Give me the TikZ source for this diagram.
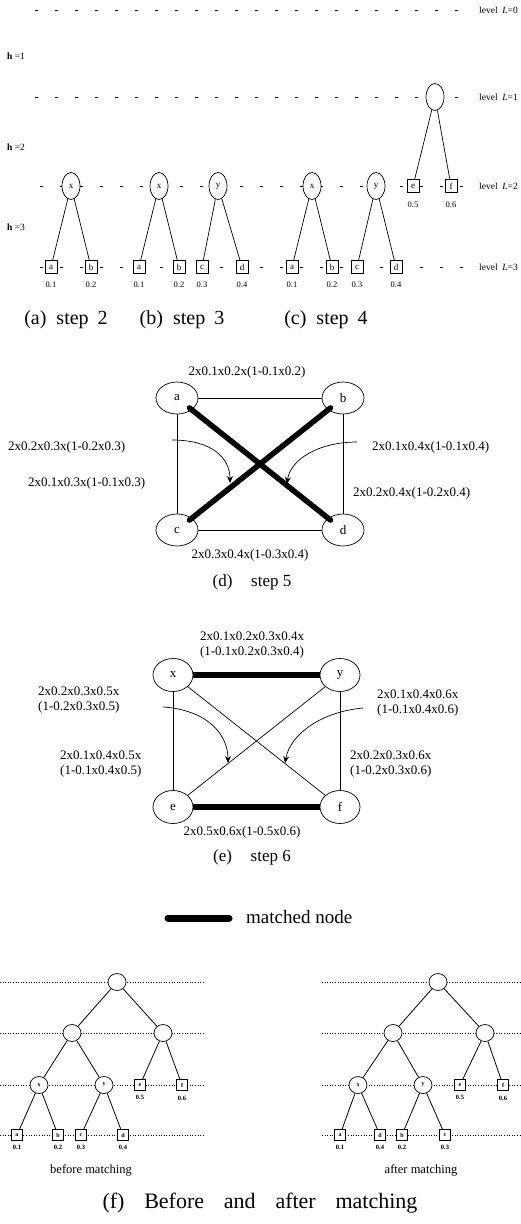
\documentclass[tikz,border=0pt]{standalone}
\usepackage{fontspec}
\setmainfont{Liberation Serif}
\usetikzlibrary{shapes.geometric,calc,arrows.meta}
\begin{document}
\begin{tikzpicture}[x=1pt,y=-1pt,
  tlbl/.style={font=\fontsize{9.5}{10}\selectfont, inner sep=0, anchor=west},
  tell/.style={ellipse, draw, fill=white, minimum width=18pt, minimum height=27pt, inner sep=0, font=\fontsize{9}{9}\selectfont, line width=0.7pt},
  tbox/.style={rectangle, draw, fill=white, minimum width=12pt, minimum height=13pt, inner sep=0, font=\fontsize{9}{9}\selectfont, line width=0.7pt},
  tnum/.style={font=\fontsize{8.5}{9}\selectfont, inner sep=0},
  lvl/.style={dash pattern=on 3pt off 17pt, line width=0.7pt},
  tedge/.style={line width=0.7pt},
  capt/.style={font=\fontsize{20}{22}\selectfont, inner sep=0},
  gnode/.style={ellipse, draw, fill=white, minimum width=42pt, minimum height=32pt, inner sep=0, font=\fontsize{13}{14}\selectfont, line width=0.7pt},
  enode/.style={gnode, minimum width=40pt, minimum height=33pt},
  glbl/.style={font=\fontsize{13}{15}\selectfont, inner sep=0},
  thin/.style={line width=0.7pt},
  thick/.style={line width=5.5pt, line cap=round},
  carrow/.style={line width=0.7pt, -{Stealth[length=7pt,width=6pt]}},
  fcirc/.style={ellipse, draw, fill=white, minimum width=18pt, minimum height=17pt, inner sep=0, font=\fontsize{6}{7}\selectfont\bfseries, line width=0.7pt},
  fbox/.style={rectangle, draw, fill=white, minimum width=11pt, minimum height=11pt, inner sep=0, font=\fontsize{6}{7}\selectfont\bfseries, line width=0.7pt},
  fnum/.style={font=\fontsize{6.5}{7}\selectfont\bfseries, inner sep=0},
  flvl/.style={dotted, line width=0.6pt},
  fedge/.style={line width=0.8pt},
  fcap/.style={font=\fontsize{12.5}{13}\selectfont, inner sep=0}
]
\useasboundingbox (0,0) rectangle (520,1224);

% ---------- top: steps 2-4 ----------
\draw[lvl] (35,10) -- (472,10);
\draw[lvl] (35,97) -- (472,97);
\draw[lvl] (40,186) -- (472,186);
\draw[lvl] (40,267) -- (472,267);
\node[tlbl] (lv0) at (479,10) {level \ \textit{L}=0};
\node[tlbl] (lv1) at (479,97) {level \ \textit{L}=1};
\node[tlbl] (lv2) at (479,186) {level \ \textit{L}=2};
\node[tlbl] (lv3) at (479,267) {level \ \textit{L}=3};
\node[tlbl] (h1) at (7,56) {\textbf{h} =1};
\node[tlbl] (h2) at (7,147) {\textbf{h} =2};
\node[tlbl] (h3) at (7,227) {\textbf{h} =3};

% (a)
\node[tell] (ax) at (71,186) {x};
\node[tbox] (aa) at (51,267) {a};
\node[tbox] (ab) at (91,267) {b};
\draw[tedge] (ax) -- (aa);
\draw[tedge] (ax) -- (ab);
\node[tnum] (aan) at (51,285) {0.1};
\node[tnum] (abn) at (91,285) {0.2};

% (b)
\node[tell] (bx) at (159,186) {x};
\node[tell] (by) at (218,186) {y};
\node[tbox] (ba) at (139,267) {a};
\node[tbox] (bb) at (179,267) {b};
\node[tbox] (bc) at (202,267) {c};
\node[tbox] (bd) at (242,267) {d};
\draw[tedge] (bx) -- (ba);
\draw[tedge] (bx) -- (bb);
\draw[tedge] (by) -- (bc);
\draw[tedge] (by) -- (bd);
\node[tnum] (ban) at (139,285) {0.1};
\node[tnum] (bbn) at (179,285) {0.2};
\node[tnum] (bcn) at (202,285) {0.3};
\node[tnum] (bdn) at (242,285) {0.4};

% (c)
\node[tell] (croot) at (435,97) {};
\node[tell] (cx) at (312,186) {x};
\node[tell] (cy) at (376,186) {y};
\node[tbox] (ce) at (413,186) {e};
\node[tbox] (cf) at (451,186) {f};
\node[tbox] (ca) at (292,267) {a};
\node[tbox] (cb) at (332,267) {b};
\node[tbox] (cc) at (357,267) {c};
\node[tbox] (cd) at (396,267) {d};
\draw[tedge] (croot) -- (ce);
\draw[tedge] (croot) -- (cf);
\draw[tedge] (cx) -- (ca);
\draw[tedge] (cx) -- (cb);
\draw[tedge] (cy) -- (cc);
\draw[tedge] (cy) -- (cd);
\node[tnum] (cen) at (413,205) {0.5};
\node[tnum] (cfn) at (451,205) {0.6};
\node[tnum] (can) at (292,285) {0.1};
\node[tnum] (cbn) at (332,285) {0.2};
\node[tnum] (ccn) at (357,285) {0.3};
\node[tnum] (cdn) at (396,285) {0.4};

\node[capt] (capa) at (66,320) {(a)\hspace{0.5em}step\hspace{0.45em}2};
\node[capt] (capb) at (182,320) {(b)\hspace{0.5em}step\hspace{0.45em}3};
\node[capt] (capc) at (326,320) {(c)\hspace{0.5em}step\hspace{0.45em}4};

% ---------- (d) step 5 ----------
\node[gnode] (da) at (177,398) {a};
\node[gnode] (db) at (343,398) {b};
\node[gnode] (dc) at (177,530) {c};
\node[gnode] (dd) at (343,530) {d};
\draw[thin] (da) -- (db);
\draw[thin] (dc) -- (dd);
\draw[thin] (da) -- (dc);
\draw[thin] (db) -- (dd);
\draw[thick] ($(da.center)!16pt!(dd.center)$) -- ($(dd.center)!16pt!(da.center)$);
\draw[thick] ($(db.center)!16pt!(dc.center)$) -- ($(dc.center)!16pt!(db.center)$);
\node[glbl] (dl1) at (247,372) {2x0.1x0.2x(1-0.1x0.2)};
\node[glbl, anchor=west] (dl2) at (8,447) {2x0.2x0.3x(1-0.2x0.3)};
\node[glbl, anchor=west] (dl3) at (28,483) {2x0.1x0.3x(1-0.1x0.3)};
\node[glbl, anchor=west] (dl4) at (372,447) {2x0.1x0.4x(1-0.1x0.4)};
\node[glbl, anchor=west] (dl5) at (353,493) {2x0.2x0.4x(1-0.2x0.4)};
\node[glbl] (dl6) at (250,555) {2x0.3x0.4x(1-0.3x0.4)};
\coordinate (dal) at (172,440);
\coordinate (dat) at (230,483);
\coordinate (dbl) at (357,442);
\coordinate (dbt) at (287,484);
\draw[carrow] (dal) .. controls (212,440) and (230,458) .. (dat);
\draw[carrow] (dbl) .. controls (318,442) and (290,460) .. (dbt);
\node[capt, font=\fontsize{17}{19}\selectfont] (capd) at (252,582) {(d)\hspace{1.1em}step 5};

% ---------- (e) step 6 ----------
\node[enode] (ex) at (173,675) {x};
\node[enode] (ey) at (340,675) {y};
\node[enode] (ee) at (173,807) {e};
\node[enode] (ef) at (340,807) {f};
\draw[thin] (ex) -- (ee);
\draw[thin] (ey) -- (ef);
\draw[thin] (ex) -- (ef);
\draw[thin] (ey) -- (ee);
\draw[line width=6pt] (ex) -- (ey);
\draw[line width=6pt] (ee) -- (ef);
\node[glbl, align=center] (el1) at (252,645) {2x0.1x0.2x0.3x0.4x\\(1-0.1x0.2x0.3x0.4)};
\node[glbl, align=left, anchor=west] (el2) at (38,700) {2x0.2x0.3x0.5x\\(1-0.2x0.3x0.5)};
\node[glbl, align=left, anchor=west] (el3) at (60,764) {2x0.1x0.4x0.5x\\(1-0.1x0.4x0.5)};
\node[glbl, align=left, anchor=west] (el4) at (377,703) {2x0.1x0.4x0.6x\\(1-0.1x0.4x0.6)};
\node[glbl, align=left, anchor=west] (el5) at (350,764) {2x0.2x0.3x0.6x\\(1-0.2x0.3x0.6)};
\node[glbl] (el6) at (242,832) {2x0.5x0.6x(1-0.5x0.6)};
\coordinate (eal) at (163,707);
\coordinate (eat) at (228,763);
\coordinate (ebl) at (363,708);
\coordinate (ebt) at (285,763);
\draw[carrow] (eal) .. controls (208,710) and (228,735) .. (eat);
\draw[carrow] (ebl) .. controls (320,712) and (290,735) .. (ebt);
\node[capt, font=\fontsize{17}{19}\selectfont] (cape) at (252,857) {(e)\hspace{1.1em}step 6};

% ---------- legend ----------
\coordinate (lg1) at (168,918);
\coordinate (lg2) at (229,918);
\draw[line width=7pt, line cap=round] (lg1) -- (lg2);
\node[capt, anchor=west, font=\fontsize{19}{21}\selectfont] (lgt) at (246,917) {matched node};

% ---------- (f) ----------
\foreach \yy in {982,1033,1085,1135} {
  \draw[flvl] (0,\yy) -- (205,\yy);
  \draw[flvl] (322,\yy) -- (520,\yy);
}
% before
\node[fcirc] (fr) at (117,982) {};
\node[fcirc] (fl) at (72,1033) {};
\node[fcirc] (frr) at (163,1033) {};
\node[fcirc] (fx) at (39,1085) {x};
\node[fcirc] (fy) at (104,1085) {y};
\node[fbox] (fe) at (140,1085) {e};
\node[fbox] (ff) at (182,1085) {f};
\node[fbox] (fa) at (17,1135) {a};
\node[fbox] (fb) at (58,1135) {b};
\node[fbox] (fc) at (81,1135) {c};
\node[fbox] (fd) at (123,1135) {d};
\draw[fedge] (fr) -- (fl);
\draw[fedge] (fr) -- (frr);
\draw[fedge] (fl) -- (fx);
\draw[fedge] (fl) -- (fy);
\draw[fedge] (frr) -- (fe);
\draw[fedge] (frr) -- (ff);
\draw[fedge] (fx) -- (fa);
\draw[fedge] (fx) -- (fb);
\draw[fedge] (fy) -- (fc);
\draw[fedge] (fy) -- (fd);
\node[fnum] (fen) at (140,1097) {0.5};
\node[fnum] (ffn) at (182,1098) {0.6};
\node[fnum] (fan) at (17,1147) {0.1};
\node[fnum] (fbn) at (58,1147) {0.2};
\node[fnum] (fcn) at (81,1147) {0.3};
\node[fnum] (fdn) at (123,1147) {0.4};
\node[fcap] (fcb) at (91,1170) {before matching};
% after
\node[fcirc] (gr) at (438,982) {};
\node[fcirc] (gl) at (393,1033) {};
\node[fcirc] (grr) at (485,1033) {};
\node[fcirc] (gx) at (358,1085) {x};
\node[fcirc] (gy) at (423,1085) {y};
\node[fbox] (ge) at (460,1085) {e};
\node[fbox] (gf) at (503,1085) {f};
\node[fbox] (ga) at (340,1135) {a};
\node[fbox] (gd) at (380,1135) {d};
\node[fbox] (gb) at (402,1135) {b};
\node[fbox] (gc) at (445,1135) {c};
\draw[fedge] (gr) -- (gl);
\draw[fedge] (gr) -- (grr);
\draw[fedge] (gl) -- (gx);
\draw[fedge] (gl) -- (gy);
\draw[fedge] (grr) -- (ge);
\draw[fedge] (grr) -- (gf);
\draw[fedge] (gx) -- (ga);
\draw[fedge] (gx) -- (gd);
\draw[fedge] (gy) -- (gb);
\draw[fedge] (gy) -- (gc);
\node[fnum] (gen) at (460,1097) {0.5};
\node[fnum] (gfn) at (503,1098) {0.6};
\node[fnum] (gan) at (340,1147) {0.1};
\node[fnum] (gdn) at (380,1147) {0.4};
\node[fnum] (gbn) at (402,1147) {0.2};
\node[fnum] (gcn) at (445,1147) {0.3};
\node[fcap] (fca) at (421,1170) {after matching};

\node[inner sep=0, font=\fontsize{22}{24}\selectfont] (capf) at (260,1203) {(f)\hspace{0.9em}Before\hspace{0.9em}and\hspace{0.9em}after\hspace{0.9em}matching};
\end{tikzpicture}
\end{document}
